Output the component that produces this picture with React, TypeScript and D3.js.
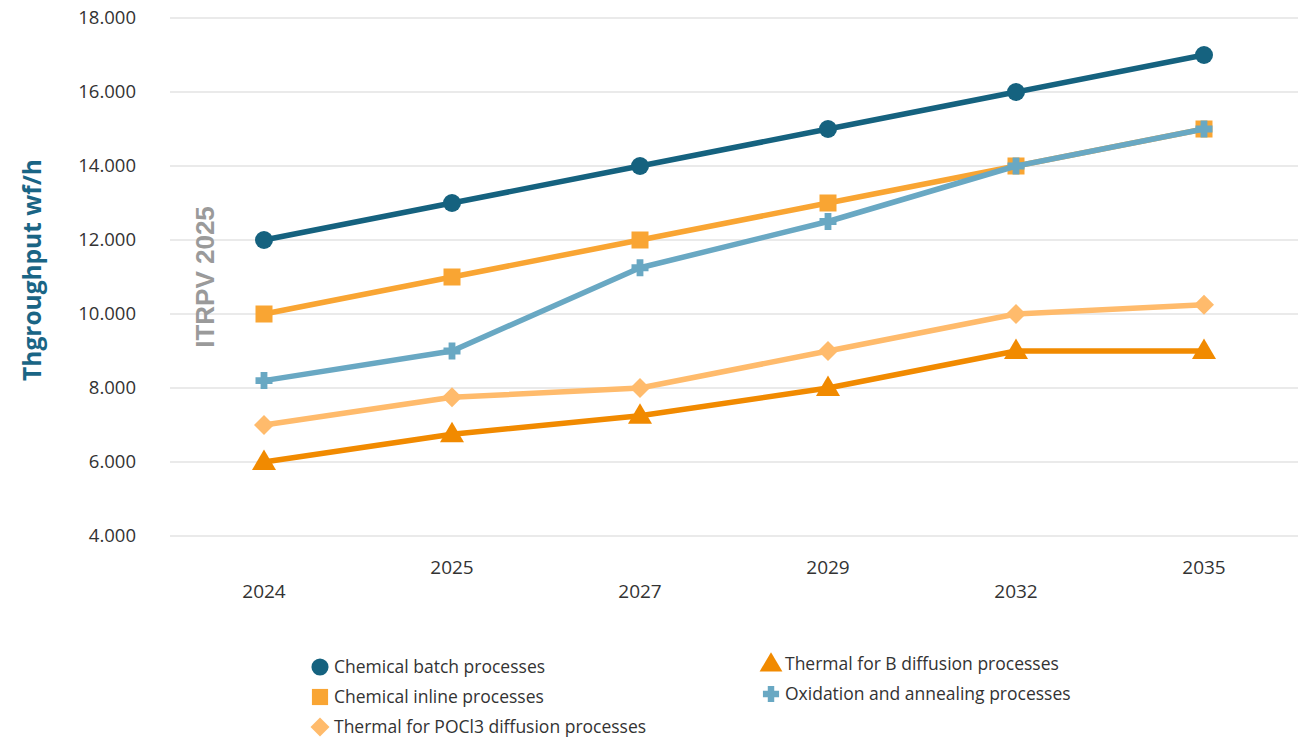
import React from "react";
import * as d3 from "d3";

const years = ["2024", "2025", "2027", "2029", "2032", "2035"];
const chemicalBatch = [12000, 13000, 14000, 15000, 16000, 17000];
const chemicalInline = [10000, 11000, 12000, 13000, 14000, 15000];
const thermalPOCl3 = [7000, 7750, 8000, 9000, 10000, 10250];
const thermalB = [6000, 6750, 7250, 8000, 9000, 9000];
const oxidation = [8200, 9000, 11250, 12500, 14000, 15000];
const yTicks = [4000, 6000, 8000, 10000, 12000, 14000, 16000, 18000];

const W = 1309;
const H = 737;
const FONT = "'Open Sans', 'Noto Sans', sans-serif";

type Series = { name: string; values: number[]; color: string; marker: string };
const series: Series[] = [
  { name: "Chemical batch processes", values: chemicalBatch, color: "#15627f", marker: "circle" },
  { name: "Chemical inline processes", values: chemicalInline, color: "#f9a533", marker: "square" },
  { name: "Thermal for POCl3 diffusion processes", values: thermalPOCl3, color: "#ffbb6c", marker: "diamond" },
  { name: "Thermal for B diffusion processes", values: thermalB, color: "#f18a00", marker: "triangle" },
  { name: "Oxidation and annealing processes", values: oxidation, color: "#69a8c3", marker: "cross" },
];

function Marker({ type, x, y, color, s = 1 }: { type: string; x: number; y: number; color: string; s?: number }) {
  if (type === "circle") return <circle cx={x} cy={y} r={9 * s} fill={color} />;
  if (type === "square") return <rect x={x - 8.5 * s} y={y - 8.5 * s} width={17 * s} height={17 * s} fill={color} />;
  if (type === "diamond")
    return <path d={`M${x},${y - 10 * s}L${x + 10 * s},${y}L${x},${y + 10 * s}L${x - 10 * s},${y}Z`} fill={color} />;
  if (type === "triangle")
    return <path d={`M${x},${y - 12.5 * s}L${x + 12 * s},${y + 8 * s}L${x - 12 * s},${y + 8 * s}Z`} fill={color} />;
  const a = 8.5 * s, b = 3.4 * s;
  return (
    <path
      d={`M${x - b},${y - a}H${x + b}V${y - b}H${x + a}V${y + b}H${x + b}V${y + a}H${x - b}V${y + b}H${x - a}V${y - b}H${x - b}Z`}
      fill={color}
    />
  );
}

export default function App() {
  const x = d3.scaleBand<string>().domain(years).range([170, 1298]);
  const y = d3.scaleLinear().domain([4000, 18000]).range([536, 18]);
  const cx = (yr: string) => (x(yr) as number) + x.bandwidth() / 2;
  const line = d3
    .line<number>()
    .x((_, i) => cx(years[i]))
    .y((v) => y(v));
  const drawOrder = [0, 1, 2, 3, 4];

  const legendItems = [
    { s: series[0], x: 320, y: 667 },
    { s: series[1], x: 320, y: 697 },
    { s: series[2], x: 320, y: 727 },
    { s: series[3], x: 771, y: 664 },
    { s: series[4], x: 771, y: 694 },
  ];

  return (
    <svg width={W} height={H} style={{ position: "absolute", left: 0, top: 0 }} fontFamily={FONT}>
      <rect width={W} height={H} fill="#fff" />
      {yTicks.map((t) => (
        <g key={t}>
          <line x1={170} x2={1298} y1={y(t)} y2={y(t)} stroke="#e3e3e3" strokeWidth={1.5} />
          <text x={136} y={y(t)} dy="0.35em" textAnchor="end" fontSize={18.5} fill="#333">
            {d3.format(",")(t).replace(",", ".")}
          </text>
        </g>
      ))}
      {years.map((yr, i) => (
        <text key={yr} x={cx(yr)} y={i % 2 === 0 ? 591 : 567} dy="0.35em" textAnchor="middle" fontSize={19} fill="#333">
          {yr}
        </text>
      ))}
      <text
        transform={`translate(32,270) rotate(-90)`}
        textAnchor="middle"
        dy="0.35em"
        fontSize={24.5}
        fontWeight="bold"
        fill="#1a6585"
      >
        Thgroughput wf/h
      </text>
      <text
        transform={`translate(205,277) rotate(-90)`}
        textAnchor="middle"
        dy="0.35em"
        fontSize={26}
        fontWeight="bold"
        fill="#9a9a9a"
        fontFamily="'Liberation Sans', Arial, sans-serif"
      >
        ITRPV 2025
      </text>
      {drawOrder.map((k) => {
        const s = series[k];
        return (
          <g key={s.name}>
            <path d={line(s.values) || ""} fill="none" stroke={s.color} strokeWidth={5.5} strokeLinejoin="round" />
            {s.values.map((v, i) => (
              <Marker key={i} type={s.marker} x={cx(years[i])} y={y(v)} color={s.color} />
            ))}
          </g>
        );
      })}
      {legendItems.map(({ s, x: lx, y: ly }) => (
        <g key={s.name}>
          <Marker type={s.marker} x={lx} y={ly} color={s.color} s={0.95} />
          <text x={lx + 14} y={ly} dy="0.35em" fontSize={17.5} fill="#333">
            {s.name}
          </text>
        </g>
      ))}
    </svg>
  );
}
